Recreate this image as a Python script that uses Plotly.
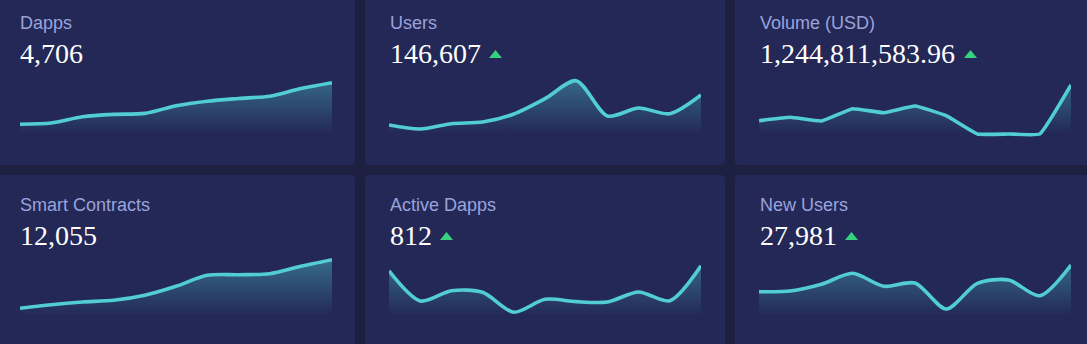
import plotly.graph_objects as go

W, H = 1087, 344

# ---- data -------------------------------------------------------------
titles = ["Dapps", "Users", "Volume (USD)", "Smart Contracts", "Active Dapps", "New Users"]
totals = ["4,706", "146,607", "1,244,811,583.96", "12,055", "812", "27,981"]
rising = [False, True, True, False, True, True]

dapps = [890, 1010, 1580, 1800, 1890, 2590, 3010, 3260, 3470, 4170, 4706]
users = [931, 517, 1066, 1241, 2069, 3652, 5514, 1862, 2690, 2100, 4034]
volume = [45.9e6, 57.6e6, 44.8e6, 87.2e6, 73.4e6, 96.6e6, 63.1e6, 0, 0, 0, 169.0e6]
smart_contracts = [1649, 2422, 2993, 3366, 4434, 6359, 8719, 8843, 9054, 10644, 12055]
active_dapps = [776, 259, 436, 409, 64, 288, 247, 241, 414, 264, 867]
new_users = [2514, 2586, 3279, 4417, 3072, 3414, 724, 3383, 3724, 2100, 5276]

series = [dapps, users, volume, smart_contracts, active_dapps, new_users]
# value shown 58 px above the zero line of each sparkline
scale_top = [5320, 6000, 2.0e8, 12420, 1000, 6000]
# curve smoothing per sparkline (lower where runs of zeros must stay flat)
smoothing = [0.8, 0.8, 0.3, 0.8, 0.8, 0.8]

# ---- styling ------------------------------------------------------------
BG = "#1d2040"
CARD = "#232856"
LINE = "#52cdd6"
LABEL = "#9aa3dc"
GREEN = "#36d27f"
SANS = "Liberation Sans, Arial, sans-serif"
SERIF = "Liberation Serif, Times New Roman, serif"

card_x = [(-6, 355), (365, 725), (735, 1095)]
card_y = [(-8, 165), (175, 352)]
chart_left = [20, 389, 759]
text_left = [20, 390, 760]
chart_w = 312
zero_y = [134, 316]
label_y = [23, 205]
value_y = [53.5, 235.5]
tri_top = [50, 232]

VAL_SIZE = 28
PAD_ABOVE, PAD_BELOW = 62, 5  # px of plot area above / below the zero line


def px(x):
    return x / W


def py(y):
    return 1 - y / H


def rounded_rect(x0, y0, x1, y1, r=4):
    rx, ry = r / W, r / H
    X0, X1, Y0, Y1 = px(x0), px(x1), py(y0), py(y1)
    return (f"M{X0 + rx},{Y0} L{X1 - rx},{Y0} Q{X1},{Y0} {X1},{Y0 - ry} "
            f"L{X1},{Y1 + ry} Q{X1},{Y1} {X1 - rx},{Y1} L{X0 + rx},{Y1} "
            f"Q{X0},{Y1} {X0},{Y1 + ry} L{X0},{Y0 - ry} Q{X0},{Y0} {X0 + rx},{Y0} Z")


def serif_width(text, size):
    w = 0.0
    for ch in text:
        w += 0.25 if ch in ",." else 0.5
    return w * size


fig = go.Figure()
shapes = []
annotations = []
layout_axes = {}

for i, vals in enumerate(series):
    row, col = divmod(i, 3)
    n = i + 1
    xa = "x" if n == 1 else f"x{n}"
    ya = "y" if n == 1 else f"y{n}"

    # card
    cx0, cx1 = card_x[col]
    cy0, cy1 = card_y[row]
    shapes.append(dict(type="path", xref="paper", yref="paper", layer="below",
                       path=rounded_rect(cx0, cy0, cx1, cy1),
                       fillcolor=CARD, line=dict(width=0)))

    # sparkline axes
    per_px = scale_top[i] / 58.0
    lo = -PAD_BELOW * per_px
    hi = PAD_ABOVE * per_px
    x0 = chart_left[col]
    layout_axes[xa.replace("x", "xaxis")] = dict(
        domain=[px(x0), px(x0 + chart_w)], range=[0, len(vals) - 1],
        visible=False, fixedrange=True, anchor=ya)
    layout_axes[ya.replace("y", "yaxis")] = dict(
        domain=[py(zero_y[row] + PAD_BELOW), py(zero_y[row] - PAD_ABOVE)],
        range=[lo, hi], visible=False, fixedrange=True, anchor=xa)

    fig.add_trace(go.Scatter(
        x=list(range(len(vals))), y=vals, xaxis=xa, yaxis=ya,
        mode="lines",
        line=dict(color=LINE, width=3.6, shape="spline", smoothing=smoothing[i]),
        fill="tozeroy",
        fillgradient=dict(type="vertical", start=0, stop=scale_top[i],
                          colorscale=[[0, "rgba(82,205,214,0.0)"],
                                      [1, "rgba(82,205,214,0.42)"]]),
        hoverinfo="skip", showlegend=False))

    # texts
    tx = text_left[col]
    annotations.append(dict(xref="paper", yref="paper", x=px(tx - 2), y=py(label_y[row]),
                            xanchor="left", yanchor="middle", showarrow=False,
                            text=titles[i], font=dict(family=SANS, size=18, color=LABEL)))
    annotations.append(dict(xref="paper", yref="paper", x=px(tx - 2), y=py(value_y[row]),
                            xanchor="left", yanchor="middle", showarrow=False,
                            text=totals[i], font=dict(family=SERIF, size=VAL_SIZE, color="#ffffff")))

    if rising[i]:
        t0 = tx + serif_width(totals[i], VAL_SIZE) + 8
        t1 = t0 + 13
        ty0 = tri_top[row]
        ty1 = ty0 + 8
        shapes.append(dict(type="path", xref="paper", yref="paper",
                           path=f"M{px(t0)},{py(ty1)} L{px(t1)},{py(ty1)} L{px((t0 + t1) / 2)},{py(ty0)} Z",
                           fillcolor=GREEN, line=dict(width=0)))

fig.update_layout(
    width=W, height=H, margin=dict(l=0, r=0, t=0, b=0),
    paper_bgcolor=BG, plot_bgcolor="rgba(0,0,0,0)",
    shapes=shapes, annotations=annotations, showlegend=False,
    **layout_axes)

fig.write_html("out.html", config={"displayModeBar": False})
